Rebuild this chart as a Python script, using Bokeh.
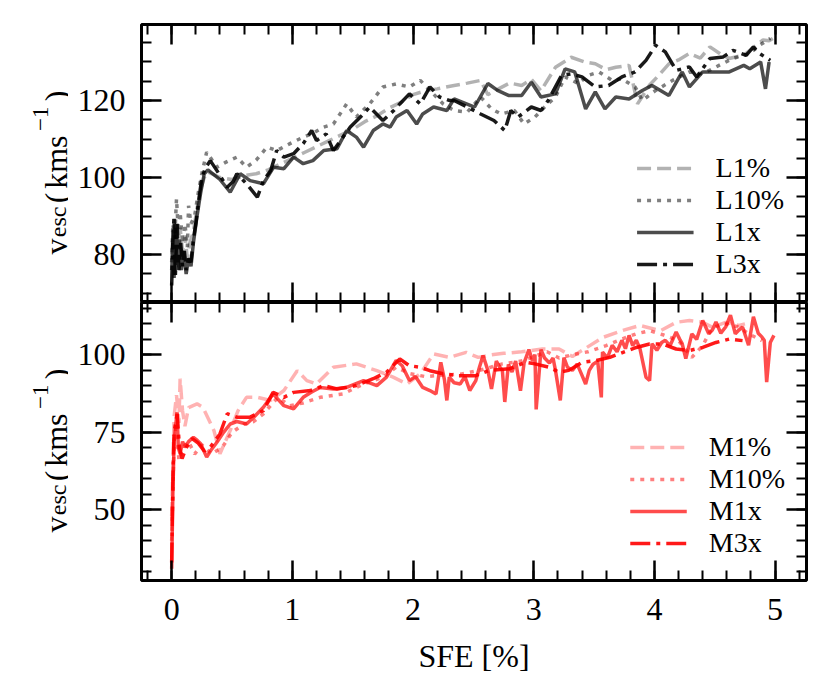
import math
from bokeh.plotting import figure
from bokeh.layouts import column, row
from bokeh.models import (Range1d, LinearAxis, SingleIntervalTicker, Legend, LegendItem, Label)
from bokeh.embed import file_html
from bokeh.resources import INLINE

# ---------------- data: top panel (L runs) ----------------
L1p_x = [0.00, 0.01, 0.02, 0.035, 0.05, 0.07, 0.09, 0.11, 0.13, 0.15, 0.18, 0.21, 0.24, 0.27, 0.30,
         0.40, 0.50, 0.60, 0.70, 0.80, 0.90, 1.00, 1.10, 1.20, 1.30, 1.40, 1.50, 1.60, 1.70, 1.80,
         1.90, 2.00, 2.10, 2.20, 2.34, 2.45, 2.56, 2.62, 2.72, 2.80, 2.90, 2.98, 3.06, 3.18, 3.31,
         3.42, 3.51, 3.60, 3.68, 3.79, 3.86, 3.96, 4.05, 4.12, 4.20, 4.29, 4.38, 4.46, 4.55, 4.62,
         4.70, 4.76, 4.83, 4.90, 4.95, 5.00]
L1p_y = [80, 86, 79, 88, 82, 87, 81, 85, 79, 83, 86, 92, 97, 100, 101.5,
         100, 99.5, 100.5, 101, 102, 103.5, 105, 106.5, 108, 109.5, 111, 112.5, 114.5, 116, 118,
         119.5, 121.5, 122.5, 123, 123.9, 124.5, 125.2, 121.5, 123.2, 124.5, 123.9, 125.5, 122.5, 128.6, 131.2,
         130, 129.5, 128, 128.6, 129.1, 119.1, 124, 127, 129.5, 130.5, 132.2, 131, 133.9, 132, 130.9,
         131.5, 132.2, 134, 135.7, 135.5, 136.4]

L10p_x = [0.00, 0.01, 0.025, 0.04, 0.055, 0.07, 0.09, 0.11, 0.13, 0.14, 0.16, 0.19, 0.22, 0.25, 0.29,
          0.375, 0.45, 0.54, 0.62, 0.70, 0.79, 0.87, 0.98, 1.09, 1.17, 1.26, 1.34, 1.45, 1.53, 1.64,
          1.75, 1.86, 1.97, 2.06, 2.14, 2.25, 2.34, 2.45, 2.56, 2.65, 2.73, 2.84, 2.92, 3.01, 3.09,
          3.18, 3.26, 3.37, 3.45, 3.54, 3.65, 3.73, 3.84, 3.90, 4.01, 4.15, 4.29, 4.40, 4.51, 4.65,
          4.79, 4.87, 4.96]
L10p_y = [78, 88, 84, 94.5, 86, 91, 83, 88, 82, 92.7, 88, 90, 96, 101, 106.6,
          102.7, 104, 105.3, 102.7, 104.5, 107.9, 107.0, 108.8, 110.5, 111.5, 113.1, 113.9, 119.1, 115.7, 119.1,
          123.5, 124.3, 123.5, 125.2, 122.6, 119.1, 117.4, 117.0, 120.9, 117.8, 116.5, 117.4, 113.9, 115.7, 118.3,
          120.9, 126.1, 124.4, 126.5, 127.4, 125.2, 125.6, 123.5, 120.0, 122.6, 125.2, 127.4, 126.9, 128.7, 130.9,
          132.2, 134.3, 136.1]

L1x_x = [0.00, 0.01, 0.02, 0.035, 0.05, 0.065, 0.08, 0.10, 0.12, 0.14, 0.16, 0.18, 0.21, 0.24, 0.27,
         0.30, 0.40, 0.485, 0.568, 0.65, 0.76, 0.845, 0.93, 1.01, 1.09, 1.17, 1.26, 1.37, 1.45, 1.53,
         1.59, 1.67, 1.75, 1.81, 1.86, 1.95, 2.03, 2.08, 2.17, 2.28, 2.34, 2.51, 2.62, 2.70, 2.79,
         2.90, 2.98, 3.06, 3.18, 3.26, 3.34, 3.43, 3.51, 3.59, 3.68, 3.79, 3.90, 3.98, 4.12, 4.23,
         4.29, 4.40, 4.62, 4.74, 4.79, 4.88, 4.92, 4.95]
L1x_y = [76, 83, 74, 87, 78, 84, 76, 81, 75, 79, 77, 83, 90, 96, 101,
         102, 99.5, 96.2, 101.0, 99.2, 98.4, 102.7, 102.3, 105.3, 103.6, 104.4, 107.0, 107.5, 112.2, 110.5,
         107.9, 112.2, 113.9, 113.1, 115.7, 117.4, 113.9, 116.5, 118.3, 117.4, 120.4, 118.3, 124.4, 122.6, 121.3,
         121.3, 124.7, 120.9, 121.7, 128.2, 127.4, 117.8, 122.2, 117.8, 120.9, 120.4, 122.6, 123.9, 121.3, 127.4,
         123.5, 127.4, 127.4, 129.1, 128.2, 130.0, 123.0, 130.0]

L3x_x = [0.00, 0.01, 0.02, 0.03, 0.045, 0.06, 0.075, 0.09, 0.105, 0.12, 0.14, 0.16, 0.18, 0.20, 0.22,
         0.25, 0.28, 0.32, 0.375, 0.43, 0.46, 0.51, 0.54, 0.62, 0.71, 0.76, 0.82, 0.87, 0.93, 1.01,
         1.09, 1.16, 1.20, 1.28, 1.34, 1.42, 1.48, 1.59, 1.64, 1.75, 1.84, 1.89, 1.97, 2.06, 2.14,
         2.22, 2.30, 2.34, 2.45, 2.56, 2.67, 2.76, 2.81, 2.87, 2.98, 3.06, 3.12, 3.23, 3.31, 3.40,
         3.51, 3.62, 3.73, 3.84, 3.93, 4.01, 4.09, 4.18, 4.29, 4.35, 4.46, 4.57, 4.65, 4.76, 4.82,
         4.87, 4.96]
L3x_y = [72, 84, 90, 74, 88, 76, 83, 77, 81, 76, 79, 78, 84, 88, 93,
         100, 102.5, 104.4, 101.8, 99, 97.5, 99, 101.0, 98.4, 94.9, 99.2, 101.8, 107.0, 105.3, 106.2,
         108.8, 112.2, 109.6, 111.3, 107.0, 110.5, 113.1, 116.5, 118.3, 114.8, 117.4, 119.1, 121.7, 119.1, 123.5,
         120.9, 120.0, 120.0, 118.3, 116.5, 114.8, 112.2, 117.4, 115.7, 118.3, 117.4, 120.0, 126.5, 126.9, 126.1,
         123.5, 123.9, 126.1, 127.4, 130.4, 134.3, 132.6, 127.8, 128.7, 126.1, 130.9, 131.3, 133.0, 131.7, 133.9,
         132.2, 130.4]

# ---------------- data: bottom panel (M runs) ----------------
M1p_x = [0.00, 0.02, 0.04, 0.06, 0.07, 0.09, 0.11, 0.14, 0.21, 0.26, 0.35, 0.40, 0.485, 0.55, 0.62,
         0.71, 0.82, 0.93, 1.04, 1.12, 1.20, 1.34, 1.53, 1.70, 1.835, 1.95, 2.06, 2.17, 2.30, 2.44,
         2.54, 2.65, 2.75, 2.90, 3.07, 3.21, 3.32, 3.42, 3.57, 3.73, 3.88, 4.05, 4.18, 4.29, 4.40,
         4.48, 4.59, 4.70, 4.75]
M1p_y = [48, 80, 87, 78, 92.3, 82, 77, 83, 84.2, 83, 75.6, 68.1, 75.6, 82, 86.3,
         86.3, 85.3, 88.5, 94.9, 91.7, 90.6, 96.0, 97.1, 94.9, 92.8, 90.6, 93.9, 100.3, 99.2, 100.8,
         99.2, 100, 100.5, 101, 101.9, 101.9, 99.5, 101.9, 105.6, 107.8, 109.5, 107.8, 110.5, 111.1, 110.5,
         108.9, 110.5, 109.5, 110]

M10p_x = [0.00, 0.02, 0.04, 0.06, 0.09, 0.14, 0.19, 0.25, 0.33, 0.42, 0.50, 0.60, 0.68, 0.76, 0.88,
          0.98, 1.09, 1.23, 1.42, 1.59, 1.75, 1.86, 1.97, 2.10, 2.25, 2.40, 2.55, 2.74, 2.90, 3.11,
          3.21, 3.34, 3.45, 3.60, 3.73, 3.85, 3.96, 4.07, 4.20, 4.31, 4.40, 4.48, 4.59, 4.70, 4.78,
          4.89]
M10p_y = [40, 72, 78, 66, 70, 72, 68, 71, 68, 70.2, 75, 77.7, 78.5, 81.0, 86.3,
          83.6, 84.5, 86.3, 87.4, 90.6, 92.8, 96.0, 94, 93, 93.5, 93.8, 95, 97.1, 98, 101,
          99, 100.2, 101, 103, 105.1, 106.8, 107.8, 106.5, 104.6, 99.2, 103.0, 108.9, 110.0, 109.0, 106.8,
          104.6]

M1x_x = [0.00, 0.01, 0.02, 0.03, 0.045, 0.055, 0.07, 0.09, 0.11, 0.14, 0.18, 0.21, 0.24, 0.29, 0.33,
         0.375, 0.43, 0.485, 0.54, 0.62, 0.68, 0.76, 0.84, 0.93, 1.01, 1.09, 1.16, 1.23, 1.34, 1.45,
         1.59, 1.70, 1.78, 1.86, 1.91, 1.97, 2.02, 2.08, 2.14, 2.19, 2.23, 2.26, 2.28, 2.30, 2.34,
         2.39, 2.43, 2.47, 2.52, 2.55, 2.58, 2.62, 2.65, 2.69, 2.72, 2.74, 2.76, 2.79, 2.82, 2.85,
         2.89, 2.92, 2.96, 2.99, 3.01, 3.02, 3.06, 3.09, 3.13, 3.16, 3.18, 3.22, 3.25, 3.28, 3.32,
         3.36, 3.40, 3.43, 3.46, 3.49, 3.53, 3.56, 3.57, 3.61, 3.65, 3.69, 3.73, 3.76, 3.79, 3.82,
         3.85, 3.88, 3.93, 3.96, 3.98, 4.02, 4.06, 4.09, 4.13, 4.18, 4.21, 4.23, 4.26, 4.31, 4.35,
         4.40, 4.45, 4.48, 4.51, 4.55, 4.59, 4.63, 4.67, 4.70, 4.73, 4.78, 4.82, 4.86, 4.89, 4.91,
         4.93, 4.96, 4.99]
M1x_y = [31, 55, 72, 76, 81.5, 70, 68.1, 72, 70.2, 72, 73.4, 72.5, 71.3, 67.0, 69.5,
         71.8, 75, 77.7, 78.5, 77.7, 79.9, 83.1, 87.4, 83.6, 82.6, 86.3, 88, 89.5, 89, 89.5,
         91.7, 90.1, 92.8, 98.2, 96.5, 91.7, 93, 89.5, 88.5, 87.4, 97.6, 92, 85.3, 92.8, 91,
         90.6, 93, 88.5, 91.7, 96, 99.8, 95.0, 89.0, 98.0, 96, 95.0, 84.8, 96.9, 94.5, 98.0,
         88.4, 97.4, 101.7, 98, 100.1, 82.4, 101.7, 99, 97.4, 99, 95.0, 85.3, 99.1, 96, 95.0,
         97, 93.4, 90.6, 95, 96.9, 98, 86.3, 100.9, 99, 103.1, 101, 104.7, 102, 106.3, 103,
         104.7, 102, 92.8, 91.7, 103.6, 101.5, 104, 104.7, 103, 107.4, 105, 103.6, 98.8, 106.8, 105,
         111.1, 106.8, 108, 110.6, 107, 109.0, 112.8, 106.8, 108, 109.0, 103.1, 112.3, 107, 105.8, 104.7,
         91.2, 104, 106.3]

M3x_x = [0.00, 0.01, 0.02, 0.045, 0.065, 0.086, 0.12, 0.17, 0.22, 0.27, 0.32, 0.40, 0.46, 0.54, 0.65,
         0.76, 0.84, 0.93, 1.01, 1.15, 1.26, 1.37, 1.53, 1.67, 1.78, 1.89, 1.97, 2.06, 2.14, 2.25,
         2.38, 2.52, 2.63, 2.80, 2.93, 3.01, 3.13, 3.21, 3.29, 3.40, 3.51, 3.63, 3.74, 3.85, 3.96,
         4.07, 4.18, 4.29, 4.40, 4.51, 4.62, 4.73]
M3x_y = [33, 60, 75, 81, 70, 66.5, 70, 73, 71.5, 69, 70.2, 74.5, 81.0, 79.9, 79.9,
         82.0, 87.9, 86.3, 87.9, 88.5, 90.1, 89.0, 90.1, 92.3, 94.4, 98.7, 96.5, 96.0, 94.9, 93.9,
         93.3, 93.3, 95.0, 95.5, 97.6, 97.1, 96.0, 94.4, 95.0, 97.6, 98.1, 99.2, 100.8, 102.4, 103.5,
         103.5, 101.9, 101.4, 102.4, 104.0, 105.1, 104.6]

top_labels = ["L1%", "L10%", "L1x", "L3x"]
bot_labels = ["M1%", "M10%", "M1x", "M3x"]
alphas = [0.3, 0.5, 0.7, 0.9]
dashes = ["14 6", "4 6", "solid", "20 6 4 6"]

# y-axis label pieces for v_esc (km s^-1):
# text, distance of the piece's END above the frame bottom, baseline x, size
ylab_text = ["v", "esc", "(", "kms", "\u22121", ")"]
ylab_end = [64, 96, 110, 167, 196, 212]
ylab_base = [55, 57, 55, 55, 40, 55]
ylab_size = ["32px", "24px", "32px", "32px", "23px", "32px"]

FONT = "Liberation Serif"
X_RANGE = (-0.25, 5.26)
LABEL_W = 68
FRAME_L = 141
TOP_B = 24
FRAME_H = 278
BOT_B = 105
TOTAL_H = TOP_B + 2 * FRAME_H + BOT_B


def style_axis(ax, labels):
    ax.axis_line_color = None
    ax.major_tick_in = 20
    ax.major_tick_out = 0
    ax.minor_tick_in = 10
    ax.minor_tick_out = 0
    ax.major_tick_line_width = 2.5
    ax.minor_tick_line_width = 2
    ax.major_tick_line_color = "black"
    ax.minor_tick_line_color = "black"
    if labels:
        ax.major_label_text_font = FONT
        ax.major_label_text_font_size = "32px"
        ax.major_label_text_color = "black"
    else:
        ax.major_label_text_font_size = "0px"
        ax.major_label_text_color = None
        ax.major_label_standoff = 0


def make_panel(yr, yticker, series, labels, color, top, legend_margin):
    p = figure(frame_width=665, frame_height=FRAME_H,
               x_range=Range1d(*X_RANGE), y_range=Range1d(*yr),
               output_backend="svg", toolbar_location=None,
               min_border_left=FRAME_L - LABEL_W, min_border_right=19,
               min_border_top=TOP_B if top else 0,
               min_border_bottom=0 if top else BOT_B)
    p.background_fill_color = "white"
    p.border_fill_color = "white"
    p.grid.visible = False
    p.outline_line_color = "black"
    p.outline_line_width = 3
    p.xaxis.ticker = SingleIntervalTicker(interval=1, num_minor_ticks=5)
    p.yaxis.ticker = yticker
    style_axis(p.xaxis[0], labels=not top)
    style_axis(p.yaxis[0], labels=True)
    p.yaxis[0].major_label_standoff = 16
    if not top:
        p.xaxis[0].major_label_standoff = 18
        p.xaxis[0].axis_label = "SFE [%]"
        p.xaxis[0].axis_label_text_font = FONT
        p.xaxis[0].axis_label_text_font_size = "32px"
        p.xaxis[0].axis_label_text_font_style = "normal"
        p.xaxis[0].axis_label_text_color = "black"
        p.xaxis[0].axis_label_standoff = 15
    ax_top = LinearAxis(ticker=SingleIntervalTicker(interval=1, num_minor_ticks=5))
    style_axis(ax_top, labels=False)
    p.add_layout(ax_top, "above")
    ax_right = LinearAxis(ticker=SingleIntervalTicker(interval=yticker.interval,
                                                      num_minor_ticks=yticker.num_minor_ticks))
    style_axis(ax_right, labels=False)
    p.add_layout(ax_right, "right")

    items = []
    for (xs, ys), lab, a, d in zip(series, labels, alphas, dashes):
        r = p.line(xs, ys, line_color=color, line_alpha=a, line_width=3.5, line_dash=d)
        items.append(LegendItem(label=lab, renderers=[r]))
    leg = Legend(items=items, location="bottom_right", margin=legend_margin, padding=0,
                 spacing=0, glyph_width=57, glyph_height=28, label_height=28,
                 label_standoff=22, label_text_font=FONT, label_text_font_size="28px",
                 label_text_color="black", border_line_color=None, background_fill_alpha=0)
    p.add_layout(leg, "center")
    return p


p1 = make_panel((67.6, 139.7), SingleIntervalTicker(interval=20, num_minor_ticks=4),
                [(L1p_x, L1p_y), (L10p_x, L10p_y), (L1x_x, L1x_y), (L3x_x, L3x_y)],
                top_labels, "black", True, 22)
p2 = make_panel((27.2, 116.9), SingleIntervalTicker(interval=25, num_minor_ticks=5),
                [(M1p_x, M1p_y), (M10p_x, M10p_y), (M1x_x, M1x_y), (M3x_x, M3x_y)],
                bot_labels, "red", False, 21)

# narrow strip on the left holding the rotated y-axis labels (pixel coordinates, y up)
lf = figure(frame_width=LABEL_W, frame_height=TOTAL_H, min_border=0,
            x_range=Range1d(0, LABEL_W), y_range=Range1d(0, TOTAL_H),
            output_backend="svg", toolbar_location=None)
lf.axis.visible = False
lf.grid.visible = False
lf.outline_line_color = None
lf.background_fill_color = "white"
lf.border_fill_color = "white"
frame_bottoms = [BOT_B + FRAME_H, BOT_B]
for fb in frame_bottoms:
    for txt, end, bx, fs in zip(ylab_text, ylab_end, ylab_base, ylab_size):
        lf.add_layout(Label(x=bx, y=fb + end, x_units="data", y_units="data", text=txt,
                            angle=math.pi / 2, text_align="right", text_baseline="alphabetic",
                            text_font=FONT, text_font_size=fs, text_color="black"))

layout = row(lf, column(p1, p2, spacing=0), spacing=0)
open("out.html", "w").write(file_html(layout, INLINE))
